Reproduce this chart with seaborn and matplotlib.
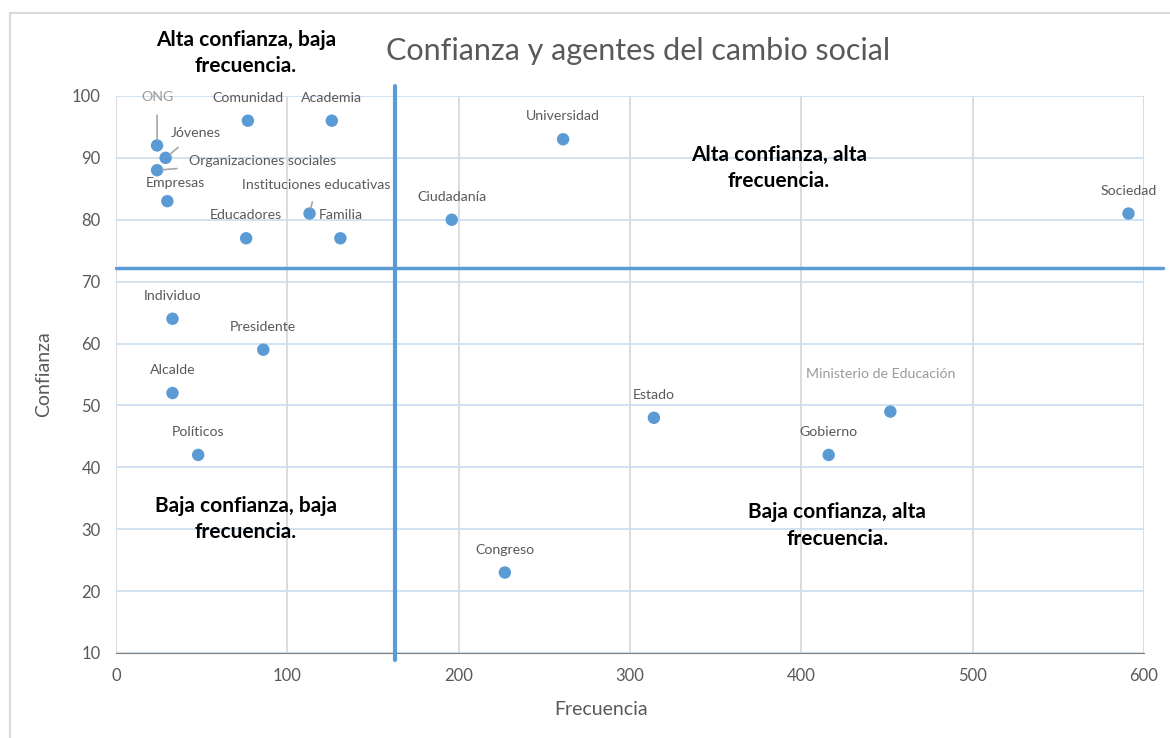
import pandas as pd
import numpy as np
import matplotlib.pyplot as plt
import seaborn as sns
from matplotlib.patches import Rectangle

# Agentes del cambio social: frecuencia de mención vs. confianza
agentes = ['ONG', 'Jóvenes', 'Organizaciones sociales', 'Empresas', 'Comunidad',
           'Academia', 'Educadores', 'Instituciones educativas', 'Familia',
           'Ciudadanía', 'Universidad', 'Sociedad', 'Individuo', 'Presidente',
           'Alcalde', 'Políticos', 'Estado', 'Ministerio de Educación',
           'Gobierno', 'Congreso']
frecuencia = [24, 29, 24, 30, 77, 126, 76, 113, 131, 196, 261, 591,
              33, 86, 33, 48, 314, 452, 416, 227]
confianza = [92, 90, 88, 83, 96, 96, 77, 81, 77, 80, 93, 81,
             64, 59, 52, 42, 48, 49, 42, 23]

# cortes de los cuadrantes
corte_x = 163
corte_y = 72.2

df = pd.DataFrame({'agente': agentes, 'Frecuencia': frecuencia, 'Confianza': confianza})

azul = '#5b9bd5'
gris_txt = '#595959'

sns.set_style("white")
plt.rcParams['font.family'] = ['Lato', 'DejaVu Sans']

fig = plt.figure(figsize=(11.7, 7.38), dpi=100)
ax = fig.add_axes([0.0991, 0.1152, 0.8786, 0.7548])

sns.scatterplot(data=df, x='Frecuencia', y='Confianza', color=azul, s=80,
                edgecolor='none', ax=ax, zorder=4)

ax.set_xlim(0, 600)
ax.set_ylim(10, 100)
ax.set_xticks(range(0, 601, 100))
ax.set_yticks(range(10, 101, 10))
ax.grid(axis='y', color='#cfdff0', linewidth=1.3)
ax.grid(axis='x', color='#d9d9d9', linewidth=1.3)
ax.set_axisbelow(True)
for s in ['top', 'right', 'left']:
    ax.spines[s].set_visible(False)
ax.spines['bottom'].set_color('#7f7f7f')
ax.tick_params(length=0, labelsize=12, colors=gris_txt, pad=11)
ax.set_xlabel('Frecuencia', fontsize=14, color=gris_txt)
ax.xaxis.set_label_coords(0.472, -0.086)
ax.set_ylabel('Confianza', fontsize=14, color=gris_txt, labelpad=14)

# líneas de cuadrante
ax.plot([0, 611], [corte_y, corte_y], color=azul, lw=2.5, clip_on=False, zorder=3)
ax.plot([corte_x, corte_x], [8.9, 101.6], color=azul, lw=3, clip_on=False, zorder=3)

# desplazamiento de etiquetas en píxeles (dx, dy, línea guía)
desplaz = {
    'ONG': (0, 48, True),
    'Jóvenes': (30, 25, True),
    'Organizaciones sociales': (105, 9, True),
    'Empresas': (8, 18, False),
    'Instituciones educativas': (7, 29, True),
    'Ministerio de Educación': (-10, 38, False),
}
for a, fx, cy in zip(agentes, frecuencia, confianza):
    dx, dy, guia = desplaz.get(a, (0, 23, False))
    col = '#9a9a9a' if a in ('ONG', 'Ministerio de Educación') else gris_txt
    props = None
    if guia:
        props = dict(arrowstyle='-', color='#a6a6a6', lw=1.2, shrinkA=6, shrinkB=4)
    ax.annotate(a, (fx, cy), xytext=(dx, dy), textcoords='offset pixels',
                ha='center', va='center', fontsize=10.2, color=col,
                arrowprops=props, annotation_clip=False, zorder=5)

# textos de cuadrante
q = dict(fontsize=15, fontweight='bold', color='black', ha='center',
         va='center', linespacing=1.4, clip_on=False)
ax.text(76, 106.9, 'Alta confianza, baja\nfrecuencia.', **q)
ax.text(387, 88.4, 'Alta confianza, alta\nfrecuencia.', **q)
ax.text(76, 31.6, 'Baja confianza, baja\nfrecuencia.', **q)
ax.text(421, 30.6, 'Baja confianza, alta\nfrecuencia.', **q)

fig.suptitle('Confianza y agentes del cambio social', x=0.545, y=0.95,
             fontsize=22, color=gris_txt)

# marco del gráfico
fig.patches.append(Rectangle((10 / 1170, -0.1), 1.2, 0.1 + 1 - 13 / 738,
                             transform=fig.transFigure, fill=False,
                             edgecolor='#d9d9d9', lw=1.5))

fig.savefig('out.png', dpi=100)
